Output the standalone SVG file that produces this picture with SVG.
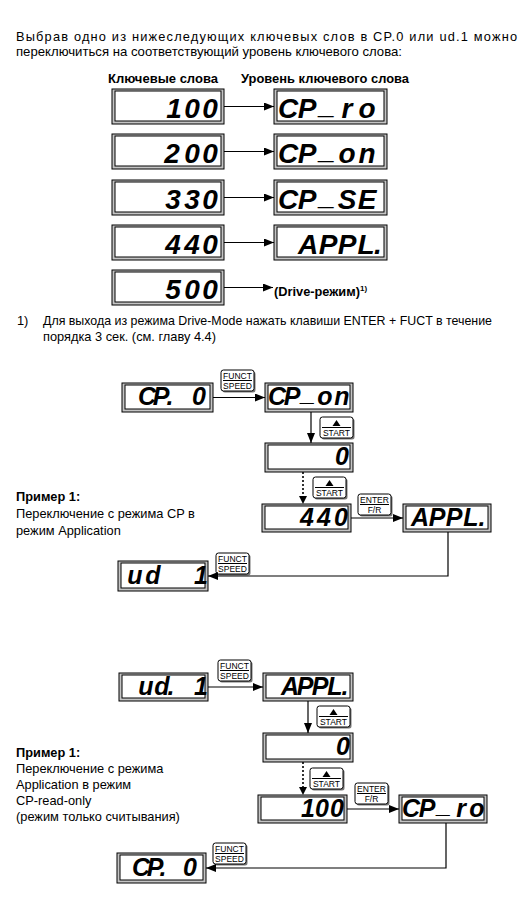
<svg xmlns="http://www.w3.org/2000/svg" xmlns:xlink="http://www.w3.org/1999/xlink" width="532" height="903" viewBox="0 0 532 903">
<style>
.t{font-family:"Liberation Sans",Arial,sans-serif;font-size:12.8px;fill:#000}
.b{font-weight:bold}
.seg{font-family:"Liberation Sans",Arial,sans-serif;font-weight:bold;font-style:italic;fill:#000;text-anchor:middle}
.big{font-size:28px}
.sm{font-size:25px}
.kt{font-family:"Liberation Sans",Arial,sans-serif;font-size:8.5px;fill:#000;text-anchor:middle}
.ln{stroke:#000;stroke-width:1.2;fill:none}
.dot{stroke:#000;stroke-width:1.6;fill:none;stroke-dasharray:2 2}
.outer{fill:#c4c4c4;stroke:#000;stroke-width:1}
.inner{fill:#fff;stroke:#000;stroke-width:1}
</style>
<defs>
<marker id="ah" markerUnits="userSpaceOnUse" markerWidth="10" markerHeight="8" refX="10" refY="4" orient="auto"><path d="M0,0 L10,4 L0,8 z" fill="#000"/></marker>
<g id="kfunct"><rect x="1.5" y="1.5" width="33" height="21" rx="2.5" fill="#777"/><rect x="0" y="0" width="33" height="21" rx="2.5" fill="#fff" stroke="#000"/><line x1="2" y1="10.5" x2="31" y2="10.5" stroke="#000"/><text class="kt" x="16.5" y="9">FUNCT</text><text class="kt" x="16.5" y="19">SPEED</text></g>
<g id="kstart"><rect x="1.5" y="1.5" width="33" height="21" rx="2.5" fill="#777"/><rect x="0" y="0" width="33" height="21" rx="2.5" fill="#fff" stroke="#000"/><line x1="2" y1="10.5" x2="31" y2="10.5" stroke="#000"/><path d="M12.5,9 L16.5,3 L20.5,9 z" fill="#000"/><text class="kt" x="16.5" y="19">START</text></g>
<g id="kenter"><rect x="1.5" y="1.5" width="33" height="21" rx="2.5" fill="#777"/><rect x="0" y="0" width="33" height="21" rx="2.5" fill="#fff" stroke="#000"/><line x1="2" y1="10.5" x2="31" y2="10.5" stroke="#000"/><text class="kt" x="16.5" y="9">ENTER</text><text class="kt" x="16.5" y="19">F/R</text></g>
</defs>
<rect width="532" height="903" fill="#fff"/>

<g id="intro">
<text class="t" x="16" y="41" textLength="501" lengthAdjust="spacing">Выбрав одно из нижеследующих ключевых слов в CP.0 или ud.1 можно</text>
<text class="t" x="16" y="56" textLength="386" lengthAdjust="spacingAndGlyphs">переключиться  на соответствующий уровень ключевого слова:</text>
<text class="t b" x="108" y="83" font-size="13.5" textLength="110" lengthAdjust="spacingAndGlyphs">Ключевые слова</text>
<text class="t b" x="241" y="83" font-size="13.5" textLength="168" lengthAdjust="spacingAndGlyphs">Уровень ключевого слова</text>
</g>

<g id="row100"><rect class="outer" x="112" y="89" width="112" height="35"/><rect class="inner" x="115" y="91" width="106" height="30"/><text class="seg big" x="174 192 210" y="118">100</text></g>
<g id="rowCPro"><rect class="outer" x="274" y="89" width="113" height="35"/><rect class="inner" x="277" y="91" width="107" height="30"/><text class="seg big" x="288 307 327 347 367" y="118 118 114 118 118">CP_ro</text></g>
<g id="row200"><rect class="outer" x="112" y="134" width="112" height="35"/><rect class="inner" x="115" y="136" width="106" height="30"/><text class="seg big" x="172 192 210" y="163">200</text></g>
<g id="rowCPon"><rect class="outer" x="274" y="134" width="113" height="35"/><rect class="inner" x="277" y="136" width="107" height="30"/><text class="seg big" x="288 307 327 347 367" y="163 163 159 163 163">CP_on</text></g>
<g id="row330"><rect class="outer" x="112" y="180" width="112" height="35"/><rect class="inner" x="115" y="182" width="106" height="30"/><text class="seg big" x="173 192 210" y="209">330</text></g>
<g id="rowCPSE"><rect class="outer" x="274" y="180" width="113" height="35"/><rect class="inner" x="277" y="182" width="107" height="30"/><text class="seg big" x="288 307 327 347 367" y="209 209 205 209 209">CP_SE</text></g>
<g id="row440"><rect class="outer" x="112" y="225" width="112" height="35"/><rect class="inner" x="115" y="227" width="106" height="30"/><text class="seg big" x="173 192 210" y="254">440</text></g>
<g id="rowAPPL"><rect class="outer" x="274" y="225" width="113" height="35"/><rect class="inner" x="277" y="227" width="107" height="30"/><text class="seg big" x="308 328 347 366 378" y="254">APPL.</text></g>
<g id="row500"><rect class="outer" x="112" y="270" width="112" height="35"/><rect class="inner" x="115" y="272" width="106" height="30"/><text class="seg big" x="173 192 210" y="299">500</text></g>
<g id="drive"><text class="t b" x="274" y="296" font-size="13">(Drive-режим)<tspan font-size="8" dy="-5">1)</tspan></text></g>

<g id="footnote">
<text class="t" x="17" y="325" font-size="10.5">1)</text>
<text class="t" x="43" y="325" textLength="449" lengthAdjust="spacingAndGlyphs">Для выхода из режима Drive-Mode нажать клавиши ENTER + FUCT в течение</text>
<text class="t" x="43" y="341">порядка 3 сек. (см. главу 4.4)</text>
</g>

<!-- Example 1 -->
<g id="ex1-text">
<text class="t b" x="16" y="501">Пример 1:</text>
<text class="t" x="16" y="518">Переключение с режима CP в</text>
<text class="t" x="16" y="535">режим Application</text>
</g>
<g id="e1-cp0"><rect class="outer" x="122" y="383" width="91" height="29"/><rect class="inner" x="125" y="385" width="85" height="24"/><text class="seg sm" x="147 161 170 199" y="405">CP.0</text></g>
<g id="e1-cpon"><rect class="outer" x="265" y="383" width="88" height="29"/><rect class="inner" x="268" y="385" width="82" height="24"/><text class="seg sm" x="277 292 308 325 342" y="405 405 401 405 405">CP_on</text></g>
<g id="e1-zero"><rect class="outer" x="265" y="443" width="88" height="29"/><rect class="inner" x="268" y="445" width="82" height="24"/><text class="seg sm" x="342" y="465">0</text></g>
<g id="e1-440"><rect class="outer" x="262" y="504" width="89" height="28"/><rect class="inner" x="265" y="506" width="83" height="23"/><text class="seg sm" x="307 324 341" y="526">440</text></g>
<g id="e1-appl"><rect class="outer" x="403" y="504" width="88" height="28"/><rect class="inner" x="406" y="506" width="82" height="23"/><text class="seg sm" x="420 437 454 471 482" y="526">APPL.</text></g>
<g id="e1-ud1"><rect class="outer" x="118" y="561" width="90" height="30"/><rect class="inner" x="121" y="563" width="84" height="25"/><text class="seg sm" x="135 153 201" y="584">ud1</text></g>
<g id="e1-keys">
<use xlink:href="#kfunct" x="221" y="370"/>
<use xlink:href="#kstart" x="320" y="417"/>
<use xlink:href="#kstart" x="313" y="477"/>
<use xlink:href="#kenter" x="358" y="494"/>
<use xlink:href="#kfunct" x="216" y="553"/>
</g>

<!-- Example 2 -->
<g id="ex2-text">
<text class="t b" x="16" y="757">Пример 1:</text>
<text class="t" x="16" y="773">Переключение с режима</text>
<text class="t" x="16" y="789">Application в режим</text>
<text class="t" x="16" y="805">CP-read-only</text>
<text class="t" x="16" y="821">(режим только считывания)</text>
</g>
<g id="e2-ud1"><rect class="outer" x="119" y="673" width="89" height="28"/><rect class="inner" x="122" y="675" width="83" height="23"/><text class="seg sm" x="146 162 171 201" y="695">ud.1</text></g>
<g id="e2-appl"><rect class="outer" x="263" y="673" width="90" height="28"/><rect class="inner" x="266" y="675" width="84" height="23"/><text class="seg sm" x="290 305 320 335 345" y="695">APPL.</text></g>
<g id="e2-zero"><rect class="outer" x="263" y="733" width="90" height="29"/><rect class="inner" x="266" y="735" width="84" height="24"/><text class="seg sm" x="343" y="755">0</text></g>
<g id="e2-100"><rect class="outer" x="258" y="795" width="89" height="28"/><rect class="inner" x="261" y="797" width="83" height="23"/><text class="seg sm" x="308 322 337" y="817">100</text></g>
<g id="e2-cpro"><rect class="outer" x="399" y="795" width="88" height="28"/><rect class="inner" x="402" y="797" width="82" height="23"/><text class="seg sm" x="411 427 444 461 477" y="817 817 813 817 817">CP_ro</text></g>
<g id="e2-cp0"><rect class="outer" x="117" y="853" width="89" height="30"/><rect class="inner" x="120" y="855" width="83" height="25"/><text class="seg sm" x="141 155 163 190" y="876">CP.0</text></g>
<g id="e2-keys">
<use xlink:href="#kfunct" x="218" y="660"/>
<use xlink:href="#kstart" x="317" y="706"/>
<use xlink:href="#kstart" x="310" y="768"/>
<use xlink:href="#kenter" x="355" y="783"/>
<use xlink:href="#kfunct" x="213" y="843"/>
</g>

<g id="connectors">
<line class="ln" x1="224" y1="106.5" x2="274" y2="106.5" marker-end="url(#ah)"/>
<line class="ln" x1="224" y1="151.5" x2="274" y2="151.5" marker-end="url(#ah)"/>
<line class="ln" x1="224" y1="197.5" x2="274" y2="197.5" marker-end="url(#ah)"/>
<line class="ln" x1="224" y1="242.5" x2="274" y2="242.5" marker-end="url(#ah)"/>
<line class="ln" x1="224" y1="287.5" x2="273" y2="287.5" marker-end="url(#ah)"/>
<line class="ln" x1="213" y1="397.5" x2="265" y2="397.5" marker-end="url(#ah)"/>
<line class="ln" x1="311" y1="412" x2="311" y2="443" marker-end="url(#ah)"/>
<line class="dot" x1="303" y1="472" x2="303" y2="496"/>
<path d="M299,496 L303,504 L307,496 z" fill="#000"/>
<line class="ln" x1="351" y1="518" x2="403" y2="518" marker-end="url(#ah)"/>
<polyline class="ln" points="448,532 448,576 208,576" marker-end="url(#ah)"/>
<line class="ln" x1="208" y1="687" x2="263" y2="687" marker-end="url(#ah)"/>
<line class="ln" x1="308" y1="701" x2="308" y2="733" marker-end="url(#ah)"/>
<line class="dot" x1="303" y1="762" x2="303" y2="787"/>
<path d="M299,787 L303,795 L307,787 z" fill="#000"/>
<line class="ln" x1="347" y1="809" x2="399" y2="809" marker-end="url(#ah)"/>
<polyline class="ln" points="446,823 446,868 206,868" marker-end="url(#ah)"/>
</g>
</svg>
